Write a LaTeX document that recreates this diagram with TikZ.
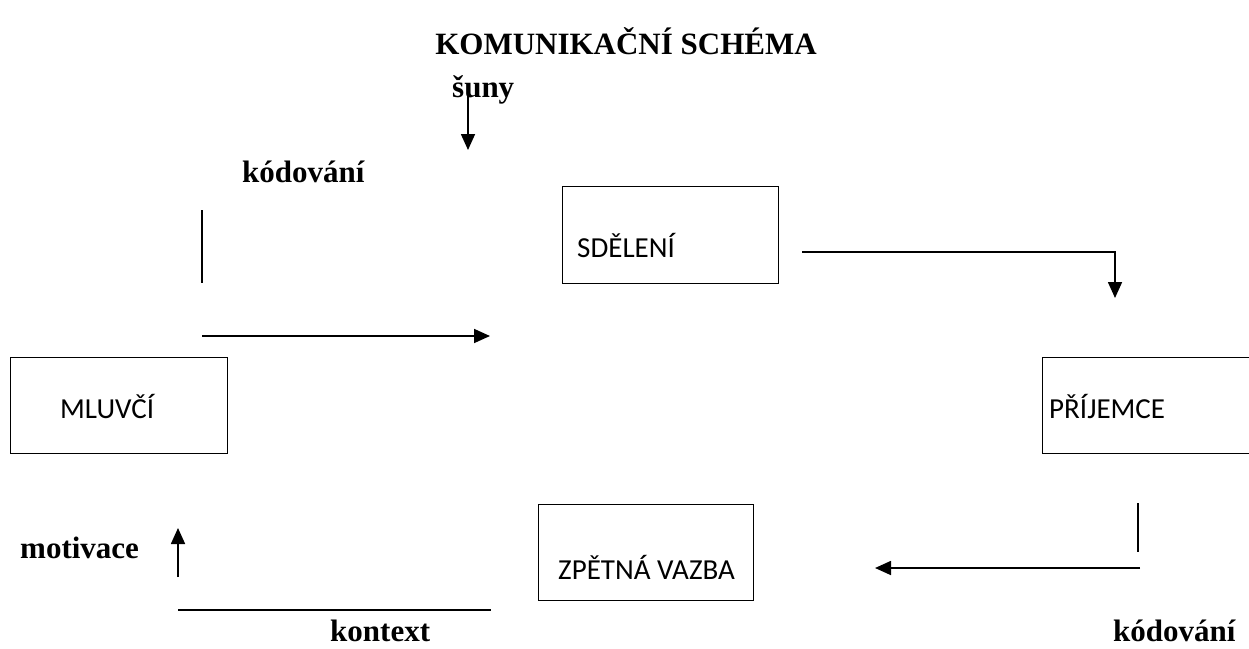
\documentclass[tikz,border=0pt]{standalone}
\usepackage{fontspec}
\setmainfont{Liberation Serif}
\newfontfamily\boxfont{Carlito}
\usetikzlibrary{arrows.meta}

\tikzset{
	box node/.style = {
		rectangle,
		draw = black,
		line width = 1.4pt,
		anchor = north west,
		minimum width = 216pt,
		minimum height = 96pt,
		inner sep = 0pt
	},
	word node/.style = {
		anchor = base west,
		inner sep = 0pt,
		font = \boxfont\fontsize{29}{33}\selectfont
	},
	tag node/.style = {
		anchor = base west,
		inner sep = 0pt,
		font = \bfseries\fontsize{31}{36}\selectfont
	},
	link/.style = {
		line width = 1.7pt
	},
	arrow/.style = {
		link,
		-{Triangle[length=16pt,width=14pt]}
	}
}

\begin{document}
\begin{tikzpicture}[x=1pt,y=-1pt]
	\useasboundingbox (0,0) rectangle (1249,648);
	\node at (626,54) [tag node, anchor = base] (title) {KOMUNIKAČNÍ SCHÉMA};

	% boxes
	\node at (10,357)   [box node, minimum width = 217pt] (mluvci) {};
	\node at (562,186)  [box node, minimum height = 97pt] (sdeleni) {};
	\node at (1042,357) [box node, minimum width = 220pt] (prijemce) {};
	\node at (538,504)  [box node, minimum width = 215pt] (vazba) {};
	\node at (60,418)   [word node] (mluvcit) {MLUVČÍ};
	\node at (577,257)  [word node] (sdelenit) {SDĚLENÍ};
	\node at (1049,418) [word node] (prijemcet) {PŘÍJEMCE};
	\node at (558,579)  [word node] (vazbat) {ZPĚTNÁ VAZBA};

	% labels
	\node at (452,97)   [tag node] (sumy) {šuny};
	\node at (242,182)  [tag node] (kod) {kódování};
	\node at (20,558)   [tag node] (motiv) {motivace};
	\node at (330,641)  [tag node] (kontext) {kontext};
	\node at (1113,641) [tag node] (kodb) {kódování};

	% connectors
	\coordinate (s1) at (468,92);   \coordinate (s2) at (468,150);
	\coordinate (k1) at (202,210);  \coordinate (k2) at (202,283);
	\coordinate (m1) at (202,336);  \coordinate (m2) at (490,336);
	\coordinate (d1) at (802,252);  \coordinate (d2) at (1115,298);
	\coordinate (p1) at (1138,503); \coordinate (p2) at (1138,552);
	\coordinate (z1) at (1140,568); \coordinate (z2) at (875,568);
	\coordinate (c1) at (178,610);  \coordinate (c2) at (491,610);
	\coordinate (u1) at (178,577);  \coordinate (u2) at (178,528);

	\draw [arrow] (s1) -- (s2);
	\draw [link]  (k1) -- (k2);
	\draw [arrow] (m1) -- (m2);
	\draw [arrow] (d1) -| (d2);
	\draw [link]  (p1) -- (p2);
	\draw [arrow] (z1) -- (z2);
	\draw [link]  (c1) -- (c2);
	\draw [arrow] (u1) -- (u2);
\end{tikzpicture}
\end{document}
